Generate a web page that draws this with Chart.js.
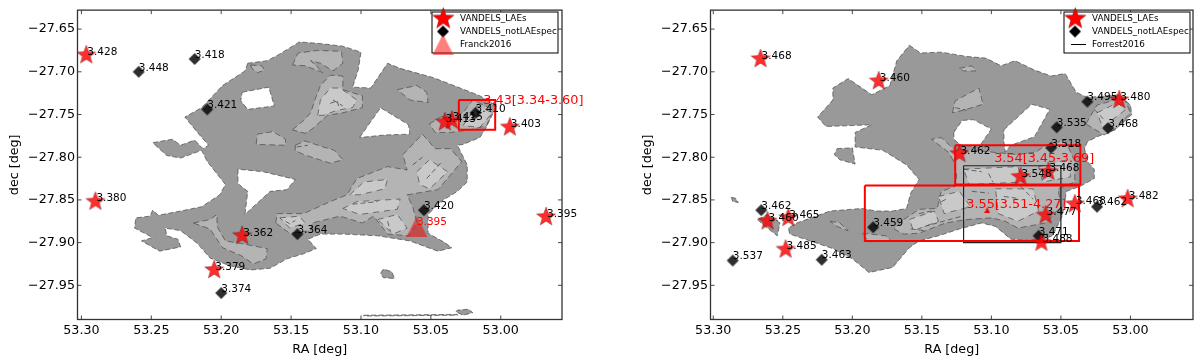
<!DOCTYPE html>
<html>
<head>
<meta charset="utf-8">
<script src="https://cdn.jsdelivr.net/npm/chart.js@4/dist/chart.umd.min.js"></script>
<style>
    html, body { margin: 0; padding: 0; background: #fff; overflow: hidden; }
    canvas { position: absolute; top: 0; filter: blur(0.35px); }
</style>
</head>
<body>
<canvas id="left" width="600" height="359" style="left:0"></canvas>
<canvas id="right" width="567" height="359" style="left:633px"></canvas>
<script>
const raTicks = [53.30, 53.25, 53.20, 53.15, 53.10, 53.05, 53.00]
const decTicks = [-27.65, -27.70, -27.75, -27.80, -27.85, -27.90, -27.95]

// left panel: density contours as [RA, dec]
const leftOuter = [[53.181,-27.690],[53.167,-27.687],[53.159,-27.680],[53.144,-27.665],[53.129,-27.667],[53.113,-27.670],[53.100,-27.677],[53.102,-27.698],[53.106,-27.718],[53.093,-27.719],[53.081,-27.690],[53.072,-27.696],[53.048,-27.707],[53.029,-27.719],[53.015,-27.728],[53.003,-27.740],[53.011,-27.767],[53.015,-27.777],[53.027,-27.785],[53.031,-27.786],[53.024,-27.809],[53.024,-27.829],[53.031,-27.840],[53.043,-27.852],[53.052,-27.867],[53.052,-27.889],[53.040,-27.900],[53.035,-27.906],[53.045,-27.910],[53.065,-27.898],[53.088,-27.892],[53.113,-27.890],[53.129,-27.890],[53.138,-27.896],[53.132,-27.907],[53.141,-27.913],[53.153,-27.919],[53.165,-27.930],[53.179,-27.932],[53.194,-27.927],[53.208,-27.918],[53.217,-27.901],[53.229,-27.886],[53.240,-27.883],[53.239,-27.892],[53.231,-27.896],[53.229,-27.905],[53.244,-27.910],[53.257,-27.898],[53.249,-27.894],[53.262,-27.883],[53.261,-27.871],[53.251,-27.869],[53.249,-27.862],[53.245,-27.868],[53.229,-27.863],[53.214,-27.858],[53.201,-27.844],[53.197,-27.832],[53.210,-27.805],[53.214,-27.792],[53.229,-27.801],[53.239,-27.798],[53.249,-27.783],[53.235,-27.779],[53.229,-27.786],[53.219,-27.780],[53.213,-27.790],[53.209,-27.786],[53.217,-27.771],[53.226,-27.753],[53.214,-27.742],[53.199,-27.716],[53.183,-27.699]]
const leftIslands = [
    [[53.086,-27.936],[53.084,-27.931],[53.078,-27.934],[53.076,-27.942],[53.084,-27.941]],
    [[53.032,-27.981],[53.031,-27.979],[53.023,-27.978],[53.020,-27.982],[53.027,-27.985]],
    [[53.098,-27.985],[53.031,-27.984],[53.031,-27.985],[53.098,-27.986]]
]
const leftHoles = [
    [[53.185,-27.724],[53.166,-27.718],[53.162,-27.740],[53.181,-27.744],[53.186,-27.734]],
    [[53.101,-27.777],[53.086,-27.742],[53.066,-27.762],[53.065,-27.773],[53.083,-27.774]],
    [[53.188,-27.814],[53.188,-27.831],[53.181,-27.840],[53.183,-27.867],[53.165,-27.840],[53.153,-27.838],[53.147,-27.826],[53.170,-27.817]]
]
const leftMid = [
    [[53.149,-27.692],[53.145,-27.678],[53.131,-27.675],[53.114,-27.676],[53.113,-27.690],[53.120,-27.699],[53.129,-27.690],[53.136,-27.687],[53.127,-27.701],[53.140,-27.693]],
    [[53.179,-27.692],[53.171,-27.693],[53.169,-27.698],[53.174,-27.701],[53.178,-27.696]],
    [[53.149,-27.768],[53.141,-27.757],[53.136,-27.748],[53.133,-27.733],[53.129,-27.716],[53.122,-27.704],[53.113,-27.705],[53.113,-27.721],[53.099,-27.728],[53.099,-27.742],[53.113,-27.748],[53.124,-27.751],[53.135,-27.767],[53.140,-27.772]],
    [[53.175,-27.785],[53.174,-27.773],[53.163,-27.770],[53.154,-27.779],[53.154,-27.786]],
    [[53.147,-27.786],[53.140,-27.781],[53.127,-27.788],[53.119,-27.792],[53.113,-27.803],[53.122,-27.807],[53.141,-27.797],[53.147,-27.792]],
    [[53.074,-27.721],[53.060,-27.716],[53.053,-27.724],[53.052,-27.736],[53.065,-27.733]],
    [[53.051,-27.761],[53.043,-27.753],[53.033,-27.751],[53.027,-27.748],[53.020,-27.733],[53.006,-27.744],[53.010,-27.763],[53.022,-27.768],[53.036,-27.771],[53.047,-27.771]],
    [[53.161,-27.877],[53.160,-27.866],[53.141,-27.866],[53.122,-27.852],[53.110,-27.844],[53.103,-27.825],[53.081,-27.811],[53.067,-27.815],[53.070,-27.797],[53.056,-27.773],[53.047,-27.790],[53.036,-27.790],[53.028,-27.805],[53.034,-27.817],[53.045,-27.838],[53.067,-27.844],[53.063,-27.858],[53.060,-27.877],[53.066,-27.892],[53.081,-27.890],[53.091,-27.869],[53.099,-27.877],[53.115,-27.869],[53.135,-27.877],[53.136,-27.886],[53.151,-27.889]],
    [[53.220,-27.877],[53.208,-27.873],[53.203,-27.867],[53.203,-27.881],[53.197,-27.898],[53.186,-27.901],[53.167,-27.907],[53.168,-27.919],[53.177,-27.925],[53.186,-27.915],[53.199,-27.906],[53.208,-27.884]]
]
const leftTop = [
    [[53.131,-27.751],[53.129,-27.733],[53.122,-27.719],[53.115,-27.719],[53.103,-27.733],[53.106,-27.742],[53.117,-27.745],[53.127,-27.751]],
    [[53.108,-27.844],[53.098,-27.829],[53.081,-27.826],[53.083,-27.837],[53.101,-27.844]],
    [[53.060,-27.817],[53.051,-27.803],[53.038,-27.817],[53.051,-27.837],[53.058,-27.832]],
    [[53.113,-27.860],[53.103,-27.852],[53.072,-27.849],[53.074,-27.861],[53.101,-27.867]],
    [[53.158,-27.871],[53.144,-27.869],[53.140,-27.877],[53.151,-27.883]],
    [[53.088,-27.873],[53.074,-27.867],[53.067,-27.883],[53.077,-27.890]],
    [[53.027,-27.763],[53.017,-27.740],[53.006,-27.748],[53.015,-27.765]]
]
const leftStrokes = [
    [[53.122,-27.737],[53.117,-27.734],[53.116,-27.740]],
    [[53.154,-27.875],[53.151,-27.878],[53.147,-27.874]],
    [[53.081,-27.875],[53.079,-27.886]],
    [[53.063,-27.809],[53.056,-27.800]],
    [[53.053,-27.825],[53.042,-27.805]],
    [[53.106,-27.855],[53.088,-27.852]],
    [[53.146,-27.788],[53.138,-27.786]],
    [[53.120,-27.733],[53.113,-27.740]],
    [[53.023,-27.757],[53.013,-27.750]]
]
const leftStarRa = [53.2965, 53.290, 53.185, 53.205, 52.9935, 52.9676, 53.040, 53.035]
const leftStarDec = [-27.6805, -27.852, -27.892, -27.932, -27.765, -27.870, -27.759, -27.757]
const leftStarZ = ['3.428', '3.380', '3.362', '3.379', '3.403', '3.395', '3.413', '3.415']
const leftDiaRa = [53.259, 53.219, 53.210, 53.200, 53.1455, 53.055, 53.018]
const leftDiaDec = [-27.700, -27.685, -27.744, -27.959, -27.890, -27.862, -27.748]
const leftDiaZ = ['3.448', '3.418', '3.421', '3.374', '3.364', '3.420', '3.410']
const leftBox = [[53.030,-27.733],[53.004,-27.733],[53.004,-27.768],[53.030,-27.768]]
const franckPoint = [[53.060,-27.881]]

// right panel
const rightOuter = [[53.159,-27.669],[53.151,-27.678],[53.136,-27.677],[53.118,-27.682],[53.104,-27.684],[53.093,-27.693],[53.083,-27.687],[53.069,-27.698],[53.057,-27.705],[53.047,-27.702],[53.039,-27.724],[53.031,-27.730],[53.008,-27.727],[53.000,-27.739],[52.999,-27.750],[53.011,-27.768],[53.024,-27.776],[53.031,-27.782],[53.033,-27.790],[53.031,-27.805],[53.026,-27.814],[53.026,-27.825],[53.036,-27.834],[53.046,-27.840],[53.049,-27.869],[53.056,-27.892],[53.066,-27.898],[53.086,-27.896],[53.097,-27.881],[53.107,-27.877],[53.123,-27.884],[53.138,-27.892],[53.152,-27.898],[53.159,-27.906],[53.171,-27.929],[53.188,-27.935],[53.200,-27.919],[53.214,-27.907],[53.245,-27.890],[53.246,-27.883],[53.240,-27.877],[53.221,-27.866],[53.216,-27.863],[53.193,-27.860],[53.183,-27.863],[53.171,-27.863],[53.161,-27.860],[53.158,-27.842],[53.152,-27.826],[53.161,-27.809],[53.168,-27.802],[53.178,-27.792],[53.198,-27.788],[53.198,-27.771],[53.186,-27.762],[53.201,-27.763],[53.219,-27.764],[53.225,-27.753],[53.214,-27.733],[53.214,-27.719],[53.203,-27.708],[53.186,-27.727],[53.173,-27.716],[53.168,-27.687]]
const rightIslands = [
    [[53.211,-27.790],[53.200,-27.789],[53.198,-27.808],[53.209,-27.803],[53.213,-27.797]],
    [[53.287,-27.847],[53.284,-27.848],[53.282,-27.853],[53.286,-27.852]],
    [[53.268,-27.873],[53.261,-27.867],[53.252,-27.877],[53.254,-27.892],[53.265,-27.878]]
]
const rightHoles = [
    [[53.127,-27.771],[53.121,-27.757],[53.113,-27.756],[53.100,-27.767],[53.109,-27.788],[53.122,-27.786],[53.127,-27.779]],
    [[53.091,-27.768],[53.071,-27.738],[53.058,-27.744],[53.069,-27.776],[53.086,-27.786],[53.090,-27.794],[53.091,-27.782]]
]
const rightMid = [
    [[53.128,-27.748],[53.126,-27.734],[53.109,-27.719],[53.106,-27.738],[53.118,-27.744]],
    [[53.123,-27.696],[53.114,-27.693],[53.111,-27.699],[53.120,-27.699]],
    [[53.032,-27.761],[53.024,-27.739],[53.011,-27.733],[53.004,-27.733],[53.000,-27.748],[53.011,-27.767],[53.019,-27.774]],
    [[53.163,-27.873],[53.152,-27.861],[53.139,-27.860],[53.136,-27.840],[53.126,-27.834],[53.125,-27.820],[53.127,-27.805],[53.131,-27.794],[53.143,-27.779],[53.136,-27.777],[53.126,-27.792],[53.113,-27.792],[53.081,-27.797],[53.068,-27.794],[53.061,-27.786],[53.047,-27.780],[53.040,-27.805],[53.040,-27.829],[53.052,-27.837],[53.050,-27.858],[53.061,-27.877],[53.081,-27.883],[53.090,-27.875],[53.100,-27.871],[53.118,-27.873],[53.133,-27.877],[53.152,-27.889],[53.163,-27.890],[53.170,-27.884]],
    [[53.193,-27.889],[53.176,-27.892],[53.172,-27.898],[53.188,-27.899]],
    [[53.216,-27.875],[53.209,-27.877],[53.203,-27.886],[53.211,-27.881]]
]
const rightTop = [
    [[53.097,-27.837],[53.070,-27.837],[53.066,-27.863],[53.081,-27.875],[53.095,-27.866]],
    [[53.138,-27.846],[53.123,-27.840],[53.115,-27.858],[53.134,-27.866]],
    [[53.120,-27.814],[53.081,-27.811],[53.077,-27.829],[53.116,-27.832]],
    [[53.159,-27.873],[53.141,-27.863],[53.138,-27.875],[53.156,-27.886]],
    [[53.024,-27.748],[53.009,-27.736],[53.004,-27.745],[53.020,-27.765]],
    [[53.066,-27.811],[53.045,-27.803],[53.043,-27.823],[53.063,-27.829]]
]
const rightStrokes = [
    [[53.120,-27.814],[53.107,-27.817]],
    [[53.102,-27.819],[53.099,-27.829]],
    [[53.114,-27.840],[53.102,-27.842]],
    [[53.079,-27.834],[53.070,-27.849]],
    [[53.091,-27.846],[53.082,-27.848]],
    [[53.158,-27.884],[53.148,-27.886]],
    [[53.152,-27.866],[53.143,-27.863]],
    [[53.136,-27.852],[53.131,-27.848]],
    [[53.126,-27.742],[53.118,-27.745]],
    [[53.026,-27.744],[53.019,-27.756]],
    [[53.148,-27.881],[53.121,-27.869]]
]
const rightStarRa = [53.266, 53.181, 53.008, 53.123, 53.079, 53.059, 53.061, 53.040, 53.002, 53.064, 53.261, 53.246, 53.248]
const rightStarDec = [-27.685, -27.711, -27.733, -27.796, -27.823, -27.817, -27.868, -27.855, -27.849, -27.900, -27.875, -27.871, -27.908]
const rightStarZ = ['3.468', '3.460', '3.480', '3.462', '3.548', '3.468', '3.477', '3.468', '3.482', '3.488', '3.460', '3.465', '3.485']
const rightDiaRa = [53.031, 53.016, 53.053, 53.057, 53.066, 53.024, 53.2655, 53.286, 53.222, 53.185]
const rightDiaDec = [-27.735, -27.766, -27.765, -27.789, -27.892, -27.858, -27.862, -27.921, -27.920, -27.882]
const rightDiaZ = ['3.495', '3.468', '3.535', '3.518', '3.471', '3.462', '3.462', '3.537', '3.463', '3.459']
const rightRedTop = [[53.126,-27.786],[53.036,-27.786],[53.036,-27.832],[53.126,-27.832]]
const rightRedLow = [[53.191,-27.833],[53.037,-27.833],[53.037,-27.898],[53.191,-27.898]]
const forrestBox = [[53.120,-27.810],[53.050,-27.810],[53.050,-27.900],[53.120,-27.900]]
const smallTriangle = [[53.103,-27.862]]

const FONT = '"DejaVu Sans"'

const markerCanvas = (w, h, paint) => {
    const c = document.createElement('canvas')
    c.width = w
    c.height = h
    paint(c.getContext('2d'), w, h)
    return c
}

const star = (r, fill) => markerCanvas(2 * r + 4, 2 * r + 4, (ctx, w, h) => {
    ctx.beginPath()
    for (let i = 0; i < 10; i++) {
        const a = -Math.PI / 2 + i * Math.PI / 5
        const rr = i % 2 ? r * 0.42 : r
        ctx.lineTo(w / 2 + rr * Math.cos(a), h / 2 + rr * Math.sin(a))
    }
    ctx.closePath()
    ctx.fillStyle = fill
    ctx.fill()
    ctx.strokeStyle = 'rgba(60,0,0,0.6)'
    ctx.lineWidth = 0.5
    ctx.stroke()
})

const diamond = (r, fill) => markerCanvas(2 * r + 2, 2 * r + 2, (ctx, w, h) => {
    ctx.beginPath()
    ctx.moveTo(w / 2, h / 2 - r)
    ctx.lineTo(w / 2 + r, h / 2)
    ctx.lineTo(w / 2, h / 2 + r)
    ctx.lineTo(w / 2 - r, h / 2)
    ctx.closePath()
    ctx.fillStyle = fill
    ctx.fill()
})

const triangle = (s, fill) => markerCanvas(s, s, (ctx, w, h) => {
    ctx.beginPath()
    ctx.moveTo(w / 2, 0)
    ctx.lineTo(w, h)
    ctx.lineTo(0, h)
    ctx.closePath()
    ctx.fillStyle = fill
    ctx.fill()
})

const toXY = pts => pts.map(p => ({x: p[0], y: p[1]}))
const closed = pts => toXY(pts.concat([pts[0]]))

const poly = (pts, fill, dash) => ({
    type: 'scatter',
    data: closed(pts),
    showLine: true,
    fill: 'shape',
    backgroundColor: fill,
    borderColor: '#484848',
    borderWidth: 0.7,
    borderDash: dash,
    pointRadius: 0,
    tension: 0
})

const stroke = pts => ({
    type: 'scatter',
    data: toXY(pts),
    showLine: true,
    borderColor: '#484848',
    borderWidth: 0.8,
    borderDash: [5, 3],
    pointRadius: 0
})

const box = (pts, color, width) => ({
    type: 'scatter',
    data: closed(pts),
    showLine: true,
    borderColor: color,
    borderWidth: width,
    pointRadius: 0
})

const markers = (ra, dec, names, image, dx, dy) => ({
    type: 'scatter',
    data: ra.map((v, i) => ({x: v, y: dec[i]})),
    pointStyle: image,
    pointRadius: 6,
    names: names,
    nameDx: dx,
    nameDy: dy
})

const note = (ra, dec, text, size) => ({
    type: 'scatter',
    data: [{x: ra, y: dec}],
    pointRadius: 0,
    names: [text],
    nameColor: '#ff0000',
    nameSize: size
})

const contours = (outer, islands, holes, mid, top, strokes) => [
    poly(outer, '#999999', [5, 2.5]),
    ...islands.map(p => poly(p, '#999999', [5, 2.5])),
    ...holes.map(p => poly(p, '#ffffff', [5, 2.5])),
    ...mid.map(p => poly(p, '#b4b4b4', [6, 3.5])),
    ...top.map(p => poly(p, '#c9c9c9', [6, 5])),
    ...strokes.map(stroke)
]

// names next to the markers, spines with inward ticks, legend box
const overlay = {
    id: 'overlay',
    afterDatasetsDraw(chart) {
        const ctx = chart.ctx
        const area = chart.chartArea
        const xs = chart.scales.x
        const ys = chart.scales.y
        ctx.save()
        ctx.textBaseline = 'middle'
        ctx.textAlign = 'left'
        chart.data.datasets.forEach((d, i) => {
            if (!d.names || d.nameColor) return
            ctx.font = '10.5px ' + FONT
            ctx.fillStyle = '#000'
            chart.getDatasetMeta(i).data.forEach((p, k) => {
                ctx.fillText(d.names[k], p.x + d.nameDx, p.y + d.nameDy)
            })
        })
        chart.data.datasets.forEach((d, i) => {
            if (!d.nameColor) return
            ctx.font = d.nameSize + 'px ' + FONT
            ctx.fillStyle = d.nameColor
            chart.getDatasetMeta(i).data.forEach((p, k) => {
                ctx.fillText(d.names[k], p.x, p.y)
            })
        })

        ctx.strokeStyle = '#333'
        ctx.lineWidth = 0.9
        ctx.beginPath()
        raTicks.forEach(v => {
            const x = xs.getPixelForValue(v)
            ctx.moveTo(x, area.top)
            ctx.lineTo(x, area.top + 4)
            ctx.moveTo(x, area.bottom)
            ctx.lineTo(x, area.bottom - 4)
        })
        decTicks.forEach(v => {
            const y = ys.getPixelForValue(v)
            ctx.moveTo(area.left, y)
            ctx.lineTo(area.left + 4, y)
            ctx.moveTo(area.right, y)
            ctx.lineTo(area.right - 4, y)
        })
        ctx.stroke()
        ctx.lineWidth = 1.3
        ctx.strokeRect(area.left, area.top, area.right - area.left, area.bottom - area.top)

        const lg = chart.options.plugins.overlay
        ctx.fillStyle = '#fff'
        ctx.fillRect(lg.x, lg.y, 126, 41)
        ctx.strokeStyle = '#000'
        ctx.lineWidth = 1
        ctx.strokeRect(lg.x, lg.y, 126, 41)
        ctx.font = '8.8px ' + FONT
        lg.rows.forEach((row, i) => {
            const y = lg.y + 6.5 + i * 13
            ctx.fillStyle = '#000'
            ctx.fillText(row.text, lg.x + 28, y)
            if (row.image) {
                ctx.drawImage(row.image, lg.x + 11 - row.image.width / 2, y - row.image.height / 2)
            } else {
                ctx.strokeStyle = '#000'
                ctx.beginPath()
                ctx.moveTo(lg.x + 7, y)
                ctx.lineTo(lg.x + 22, y)
                ctx.stroke()
            }
        })
        ctx.restore()
    }
}

const makeChart = (id, xMin, xMax, rightPad, datasets, legend) => {
    const n = datasets.length
    datasets.forEach((d, i) => { d.order = n - i })
    return new Chart(document.getElementById(id), {
        type: 'scatter',
        data: {datasets: datasets},
        plugins: [overlay],
        options: {
            responsive: false,
            animation: false,
            devicePixelRatio: 1,
            layout: {padding: {top: 6.5, right: rightPad, left: 0, bottom: 0}},
            plugins: {legend: {display: false}, tooltip: {enabled: false}, overlay: legend},
            scales: {
                x: {
                    type: 'linear',
                    reverse: true,
                    min: xMin,
                    max: xMax,
                    afterBuildTicks: s => { s.ticks = raTicks.map(v => ({value: v})) },
                    afterFit: s => { s.height = 39.5 },
                    grid: {display: false, drawTicks: false},
                    border: {display: false},
                    ticks: {
                        autoSkip: false,
                        maxRotation: 0,
                        padding: 4,
                        color: '#000',
                        font: {family: FONT, size: 12.7},
                        callback: v => v.toFixed(2)
                    },
                    title: {display: true, text: 'RA [deg]', color: '#000', padding: {top: 0, bottom: 2}, font: {family: FONT, size: 12.7}}
                },
                y: {
                    type: 'linear',
                    min: -27.99,
                    max: -27.6278,
                    afterBuildTicks: s => { s.ticks = decTicks.map(v => ({value: v})) },
                    afterFit: s => { s.width = 77.5 },
                    grid: {display: false, drawTicks: false},
                    border: {display: false},
                    ticks: {
                        autoSkip: false,
                        padding: 2.5,
                        color: '#000',
                        font: {family: FONT, size: 12.7},
                        callback: v => '\u2212' + Math.abs(v).toFixed(2)
                    },
                    title: {display: true, text: 'dec [deg]', color: '#000', padding: {top: 7, bottom: 0}, font: {family: FONT, size: 12.7}}
                }
            }
        }
    })
}

const starImg = star(10, 'rgba(255,0,0,0.82)')
const diaImg = diamond(6, 'rgba(0,0,0,0.82)')

makeChart('left', 52.9562, 53.3028, 38, [
    ...contours(leftOuter, leftIslands, leftHoles, leftMid, leftTop, leftStrokes),
    box(leftBox, '#ff0000', 2),
    markers(leftDiaRa, leftDiaDec, leftDiaZ, diaImg, 0, -4),
    {type: 'scatter', data: toXY(franckPoint), pointStyle: triangle(21, 'rgba(225,20,20,0.6)'), pointRadius: 6},
    markers(leftStarRa, leftStarDec, leftStarZ, starImg, 1, -3),
    note(53.060, -27.876, '3.395', 10.5),
    note(53.0125, -27.734, '3.43[3.34-3.60]', 12.8)
], {
    x: 432, y: 12,
    rows: [
        {text: 'VANDELS_LAEs', image: star(11.3, '#ff0000')},
        {text: 'VANDELS_notLAEspec', image: diamond(6, '#000')},
        {text: 'Franck2016', image: triangle(21, 'rgba(255,0,0,0.5)')}
    ]
})

makeChart('right', 52.955, 53.302, 4, [
    ...contours(rightOuter, rightIslands, rightHoles, rightMid, rightTop, rightStrokes),
    box(forrestBox, '#222222', 1.2),
    markers(rightDiaRa, rightDiaDec, rightDiaZ, diaImg, 0, -4),
    markers(rightStarRa, rightStarDec, rightStarZ, starImg, 1, -3),
    box(rightRedTop, '#ff0000', 2),
    box(rightRedLow, '#ff0000', 2),
    {type: 'scatter', data: toXY(smallTriangle), pointStyle: triangle(6, '#ff0000'), pointRadius: 6},
    note(53.098, -27.802, '3.54[3.45-3.69]', 12.8),
    note(53.118, -27.855, '3.55[3.51-4.27]', 12.8)
], {
    x: 431, y: 12,
    rows: [
        {text: 'VANDELS_LAEs', image: star(11.3, '#ff0000')},
        {text: 'VANDELS_notLAEspec', image: diamond(6, '#000')},
        {text: 'Forrest2016'}
    ]
})
</script>
</body>
</html>
